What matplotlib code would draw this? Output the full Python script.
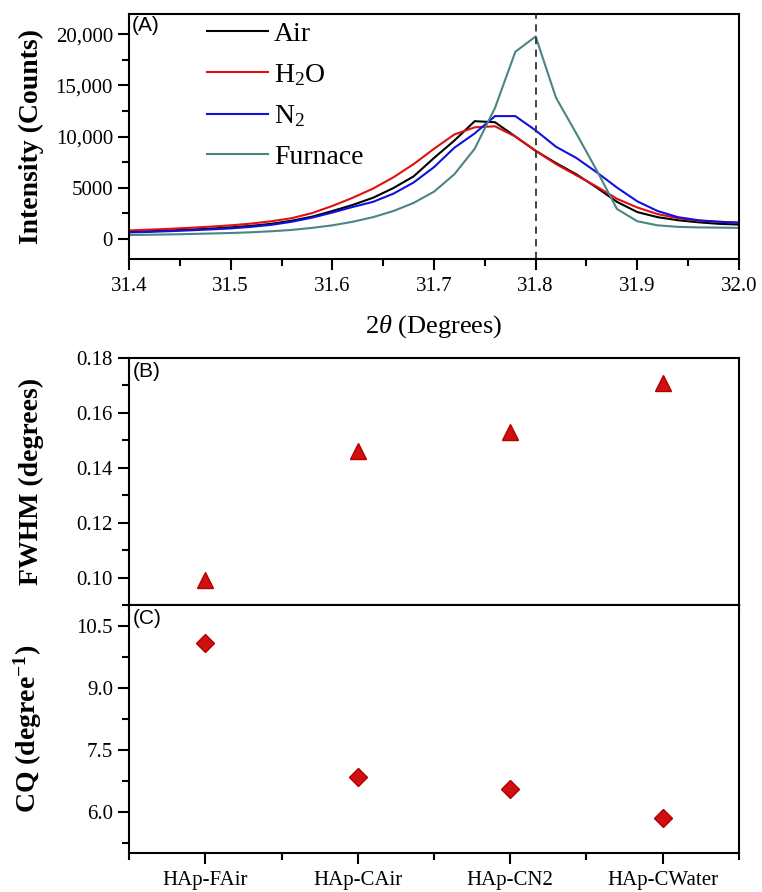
import numpy as np
import matplotlib
matplotlib.use("Agg")
import matplotlib.pyplot as plt
from matplotlib.ticker import MultipleLocator, FuncFormatter, FormatStrFormatter

plt.rcParams['font.family'] = ['Liberation Serif', 'DejaVu Serif']
plt.rcParams['mathtext.fontset'] = 'custom'
plt.rcParams['mathtext.rm'] = 'Liberation Serif'
plt.rcParams['mathtext.it'] = 'Liberation Serif:italic'
plt.rcParams['mathtext.bf'] = 'Liberation Serif:bold'
plt.rcParams['mathtext.default'] = 'regular'

# XRD (211) peak, step 0.02 deg
two_theta = np.round(np.arange(31.40, 32.001, 0.02), 2)
air = [650, 720, 800, 880, 980, 1100, 1250, 1450, 1750, 2150, 2700, 3300, 4000, 4950,
       6100, 7900, 9600, 11500, 11400, 10000, 8600, 7400, 6300, 5000, 3600, 2600, 2100,
       1800, 1600, 1450, 1380]
h2o = [800, 880, 960, 1060, 1170, 1300, 1470, 1700, 2000, 2500, 3200, 4000, 4900, 6000,
       7300, 8800, 10200, 10900, 11000, 10000, 8600, 7300, 6200, 5100, 3900, 3050, 2400,
       2000, 1750, 1650, 1580]
n2 = [600, 660, 730, 810, 900, 1000, 1150, 1350, 1650, 2050, 2550, 3100, 3600, 4400,
      5500, 7000, 8900, 10300, 12000, 12000, 10600, 9000, 7900, 6500, 5000, 3650, 2700,
      2100, 1800, 1650, 1550]
furnace = [350, 380, 410, 450, 500, 550, 620, 720, 850, 1050, 1300, 1650, 2100, 2700,
           3500, 4600, 6300, 8800, 12800, 18300, 19800, 13800, 10300, 6700, 2900, 1700,
           1300, 1150, 1100, 1080, 1050]

samples = ["HAp-FAir", "HAp-CAir", "HAp-CN2", "HAp-CWater"]
fwhm = [0.099, 0.146, 0.153, 0.171]
cq = [10.09, 6.85, 6.54, 5.85]

red = "#d01010"

fig = plt.figure(figsize=(7.62, 8.92), dpi=100)
axA = fig.add_axes([0.1693, 0.7096, 0.8005, 0.2747])
axB = fig.add_axes([0.1693, 0.3217, 0.8005, 0.2770])
axC = fig.add_axes([0.1693, 0.0437, 0.8005, 0.2780])

# (A) peak profiles
axA.plot(two_theta, air, color="black", lw=1.5, label="Air")
axA.plot(two_theta, h2o, color="#e01010", lw=1.5, label="H$_2$O")
axA.plot(two_theta, n2, color="#1010e0", lw=1.5, label="N$_2$")
axA.plot(two_theta, furnace, color="#4a8584", lw=1.5, label="Furnace")
axA.axvline(31.8, color="#333333", ls=(0, (4, 3)), lw=1.3)
axA.set_xlim(31.4, 32.0)
axA.set_ylim(-2000, 22000)
axA.xaxis.set_major_locator(MultipleLocator(0.1))
axA.xaxis.set_minor_locator(MultipleLocator(0.05))
axA.xaxis.set_major_formatter(FormatStrFormatter("%.1f"))
axA.yaxis.set_major_locator(MultipleLocator(5000))
axA.yaxis.set_minor_locator(MultipleLocator(2500))
axA.yaxis.set_major_formatter(FuncFormatter(
    lambda v, p: "{:,.0f}".format(v) if v >= 10000 else "{:.0f}".format(v)))
axA.set_xlabel(r"2$\it{\theta}$ (Degrees)", fontsize=19, labelpad=12)
axA.set_ylabel("Intensity (Counts)", fontsize=20, fontweight="bold")
axA.legend(loc="upper left", bbox_to_anchor=(0.11, 1.015), frameon=False, fontsize=20,
           handlelength=2.2, handletextpad=0.2, labelspacing=0.55, borderaxespad=0)
axA.text(0.004, 0.99, "(A)", transform=axA.transAxes, ha="left", va="top",
         fontsize=15, family="Liberation Sans")

# (B) FWHM
axB.plot(range(1, 5), fwhm, ls="none", marker="^", ms=11, color=red, mec="#b00000")
axB.set_ylim(0.09, 0.18)
axB.yaxis.set_major_locator(MultipleLocator(0.02))
axB.yaxis.set_minor_locator(MultipleLocator(0.01))
axB.yaxis.set_major_formatter(FormatStrFormatter("%.2f"))
axB.set_ylabel("FWHM (degrees)", fontsize=20, fontweight="bold")
axB.text(0.006, 0.985, "(B)", transform=axB.transAxes, ha="left", va="top",
         fontsize=15, family="Liberation Sans")

# (C) CQ
axC.plot(range(1, 5), cq, ls="none", marker="D", ms=9, color=red, mec="#b00000")
axC.set_ylim(5.0, 11.0)
axC.yaxis.set_major_locator(MultipleLocator(1.5))
axC.yaxis.set_minor_locator(MultipleLocator(0.75))
axC.yaxis.set_major_formatter(FormatStrFormatter("%.1f"))
axC.set_ylabel(r"CQ (degree$^{\bf{-1}}$)", fontsize=20, fontweight="bold")
axC.text(0.006, 0.985, "(C)", transform=axC.transAxes, ha="left", va="top",
         fontsize=15, family="Liberation Sans")

for ax in (axB, axC):
    ax.set_xlim(0.5, 4.5)
    ax.set_xticks(range(1, 5))
    ax.xaxis.set_minor_locator(MultipleLocator(0.5))
axB.set_xticklabels([])
axC.set_xticklabels(samples)

for ax in (axA, axB, axC):
    for s in ax.spines.values():
        s.set_linewidth(1.5)
    ax.tick_params(which="major", direction="out", length=8, width=1.5, labelsize=15)
    ax.tick_params(which="minor", direction="out", length=5, width=1.5)
    ax.tick_params(axis="x", which="major", pad=5)
    ax.yaxis.set_label_coords(-0.14, 0.5)

fig.savefig("out.png", dpi=100)
